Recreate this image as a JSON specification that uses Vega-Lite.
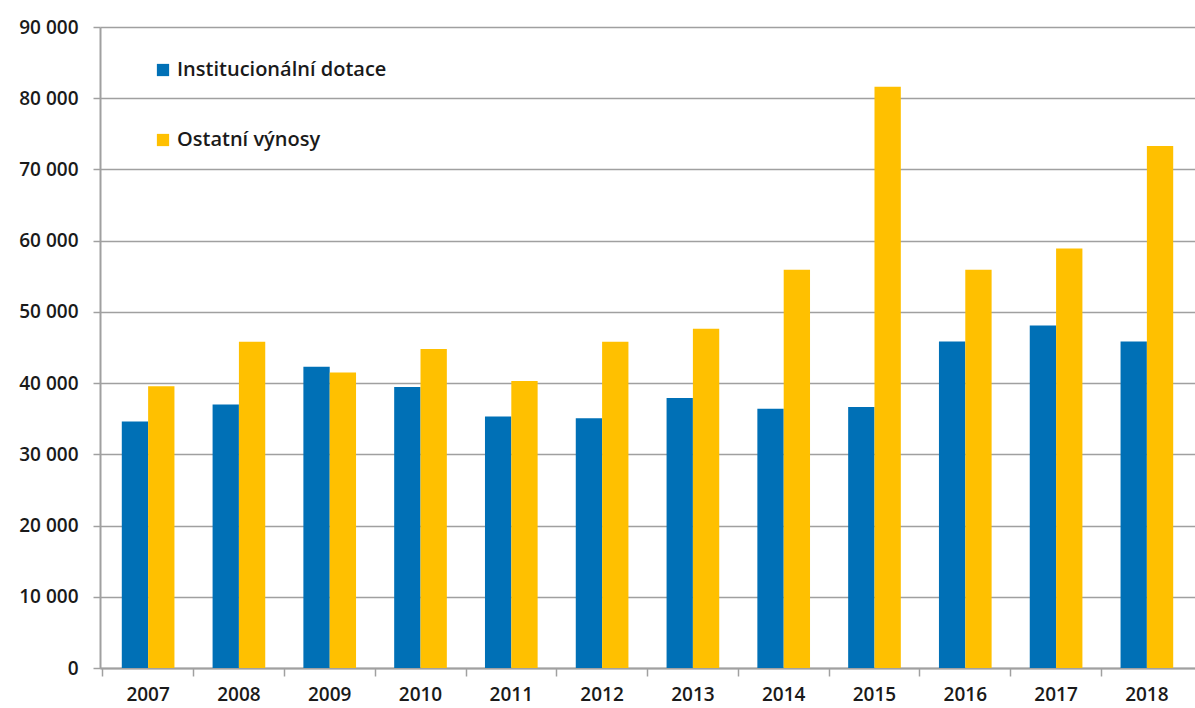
{
  "$schema": "https://vega.github.io/schema/vega-lite/v6.json",
  "width": 1095,
  "height": 641,
  "autosize": {"type": "none"},
  "padding": {"left": 100, "top": 27, "right": 0, "bottom": 40},
  "background": "white",
  "config": {"view": {"stroke": null}, "font": "Open Sans"},
  "data": {
    "values": [
      {"year": "2007", "series": "Institucionální dotace", "value": 34600},
      {"year": "2007", "series": "Ostatní výnosy", "value": 39550},
      {"year": "2008", "series": "Institucionální dotace", "value": 37000},
      {"year": "2008", "series": "Ostatní výnosy", "value": 45800},
      {"year": "2009", "series": "Institucionální dotace", "value": 42300},
      {"year": "2009", "series": "Ostatní výnosy", "value": 41500},
      {"year": "2010", "series": "Institucionální dotace", "value": 39450},
      {"year": "2010", "series": "Ostatní výnosy", "value": 44800},
      {"year": "2011", "series": "Institucionální dotace", "value": 35300},
      {"year": "2011", "series": "Ostatní výnosy", "value": 40300},
      {"year": "2012", "series": "Institucionální dotace", "value": 35050},
      {"year": "2012", "series": "Ostatní výnosy", "value": 45800},
      {"year": "2013", "series": "Institucionální dotace", "value": 37900},
      {"year": "2013", "series": "Ostatní výnosy", "value": 47650},
      {"year": "2014", "series": "Institucionální dotace", "value": 36400},
      {"year": "2014", "series": "Ostatní výnosy", "value": 55900},
      {"year": "2015", "series": "Institucionální dotace", "value": 36650},
      {"year": "2015", "series": "Ostatní výnosy", "value": 81600},
      {"year": "2016", "series": "Institucionální dotace", "value": 45850},
      {"year": "2016", "series": "Ostatní výnosy", "value": 55900},
      {"year": "2017", "series": "Institucionální dotace", "value": 48100},
      {"year": "2017", "series": "Ostatní výnosy", "value": 58900},
      {"year": "2018", "series": "Institucionální dotace", "value": 45850},
      {"year": "2018", "series": "Ostatní výnosy", "value": 73300}
    ]
  },
  "mark": {"type": "bar"},
  "encoding": {
    "x": {
      "field": "year",
      "type": "nominal",
      "scale": {"paddingInner": 0.42, "paddingOuter": 0.24},
      "axis": {
        "title": null,
        "labelAngle": 0,
        "labelAlign": "center",
        "bandPosition": -0.36,
        "labelOffset": 0,
        "domainColor": "#a0a0a0",
        "domainWidth": 2,
        "tickColor": "#a0a0a0",
        "tickWidth": 1.5,
        "tickSize": 8,
        "labelPadding": 9,
        "labelFontSize": 19,
        "labelFontWeight": 600,
        "labelColor": "#1a1a1a",
        "grid": false
      }
    },
    "xOffset": {"field": "series", "sort": ["Institucionální dotace", "Ostatní výnosy"]},
    "y": {
      "field": "value",
      "type": "quantitative",
      "scale": {"domain": [0, 90000]},
      "axis": {
        "title": null,
        "values": [0, 10000, 20000, 30000, 40000, 50000, 60000, 70000, 80000, 90000],
        "labelExpr": "replace(format(datum.value, ','), /,/g, ' ')",
        "domainColor": "#a0a0a0",
        "domainWidth": 2,
        "gridColor": "#a0a0a0",
        "gridWidth": 1.5,
        "tickColor": "#a0a0a0",
        "tickWidth": 1.5,
        "tickSize": 7,
        "labelPadding": 15,
        "labelFontSize": 19,
        "labelFontWeight": 600,
        "labelColor": "#1a1a1a"
      }
    },
    "color": {
      "field": "series",
      "type": "nominal",
      "scale": {"domain": ["Institucionální dotace", "Ostatní výnosy"], "range": ["#0070b6", "#ffc000"]},
      "legend": {
        "title": null,
        "orient": "none",
        "legendX": 53,
        "legendY": 33,
        "direction": "vertical",
        "symbolType": "square",
        "symbolSize": 150,
        "symbolStrokeWidth": 0,
        "labelFontSize": 20,
        "labelFontWeight": 600,
        "labelColor": "#1a1a1a",
        "labelLimit": 400,
        "rowPadding": 50,
        "labelOffset": 4
      }
    }
  }
}
